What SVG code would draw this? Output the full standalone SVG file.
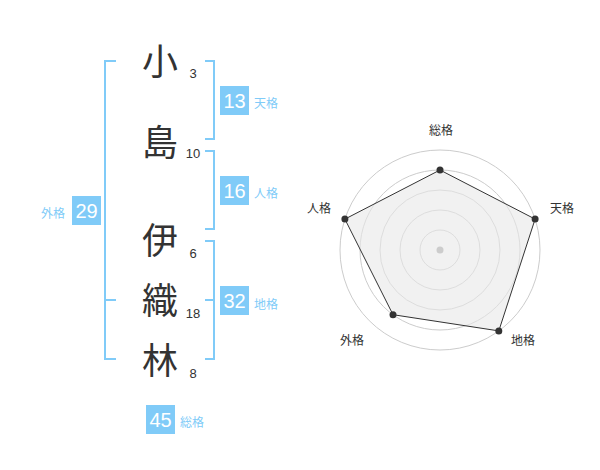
<svg xmlns="http://www.w3.org/2000/svg" width="600" height="470" viewBox="0 0 600 470">
<style>
.k{font-family:"Noto Sans CJK JP","Noto Sans CJK SC",sans-serif;font-size:36px;fill:#333;text-anchor:middle}
.n{font-family:"Liberation Sans",Arial,sans-serif;font-size:13px;fill:#333;text-anchor:middle}
.br{fill:none;stroke:#80cbf8;stroke-width:2}
.box{fill:#80cbf8}
.bn{font-family:"Liberation Sans",Arial,sans-serif;font-size:20px;fill:#fff;text-anchor:middle}
.bl{font-family:"Noto Sans CJK JP","Noto Sans CJK SC",sans-serif;font-size:12px;fill:#80cbf8}
.ring{fill:none;stroke:#ccc;stroke-width:1}
.rl{font-family:"Noto Sans CJK JP","Noto Sans CJK SC",sans-serif;font-size:12px;fill:#333;text-anchor:middle}
.dot{fill:#333}
</style>
<rect width="600" height="470" fill="#fff"/>
<g id="connectors">
<path class="br" d="M205,61H214V139H205"/>
<path class="br" d="M205,151H214V229H205"/>
<path class="br" d="M205,241H214V359H205M214,300H205"/>
<path class="br" d="M116,61H105V359H116M105,300H116"/>
</g>
<g id="char-1"><text class="k" x="160" y="75">小</text><text class="n" x="193" y="78">3</text></g>
<g id="char-2"><text class="k" x="160" y="156">島</text><text class="n" x="193" y="158">10</text></g>
<g id="char-3"><text class="k" x="160" y="254">伊</text><text class="n" x="193" y="258">6</text></g>
<g id="char-4"><text class="k" x="160" y="314">織</text><text class="n" x="193" y="318">18</text></g>
<g id="char-5"><text class="k" x="160" y="374">林</text><text class="n" x="193" y="378">8</text></g>
<g id="tenkaku"><rect class="box" x="220" y="86" width="29" height="29"/><text class="bn" x="234.5" y="107.5">13</text><text class="bl" x="254" y="108">天格</text></g>
<g id="jinkaku"><rect class="box" x="220" y="176" width="29" height="29"/><text class="bn" x="234.5" y="197.5">16</text><text class="bl" x="254" y="198">人格</text></g>
<g id="chikaku"><rect class="box" x="220" y="286" width="29" height="29"/><text class="bn" x="234.5" y="307.5">32</text><text class="bl" x="254" y="309">地格</text></g>
<g id="gaikaku"><rect class="box" x="72" y="196" width="29" height="29"/><text class="bn" x="86.5" y="217.5">29</text><text class="bl" x="41" y="218">外格</text></g>
<g id="soukaku"><rect class="box" x="146" y="405" width="29" height="29"/><text class="bn" x="160.5" y="426.5">45</text><text class="bl" x="180" y="427">総格</text></g>
<g id="radar">
<circle class="ring" cx="440" cy="250" r="20"/>
<circle class="ring" cx="440" cy="250" r="40"/>
<circle class="ring" cx="440" cy="250" r="60"/>
<circle class="ring" cx="440" cy="250" r="80"/>
<circle class="ring" cx="440" cy="250" r="100"/>
<polygon points="440,170 535.1,219.1 498.8,330.9 393,314.7 344.9,219.1" fill="#e8e8e8" fill-opacity="0.6" stroke="#333" stroke-width="1"/>
<circle cx="440" cy="250" r="3.5" fill="#ccc"/>
<circle class="dot" cx="440" cy="170" r="3.5"/>
<circle class="dot" cx="535.1" cy="219.1" r="3.5"/>
<circle class="dot" cx="498.8" cy="330.9" r="3.5"/>
<circle class="dot" cx="393" cy="314.7" r="3.5"/>
<circle class="dot" cx="344.9" cy="219.1" r="3.5"/>
<text class="rl" x="441" y="135">総格</text>
<text class="rl" x="562" y="213">天格</text>
<text class="rl" x="523" y="345">地格</text>
<text class="rl" x="352" y="345">外格</text>
<text class="rl" x="319" y="213">人格</text>
</g>
</svg>
